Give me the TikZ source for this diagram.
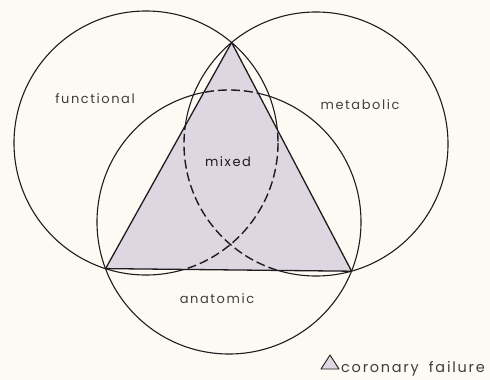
\documentclass[tikz,border=0pt]{standalone}
\usepackage{fontspec}
\setmainfont{Poppins}
\newfontfamily\lettering{Poppins}[LetterSpace=12]
\definecolor{bgc}{RGB}{252,250,243}
\definecolor{lavshade}{RGB}{222,214,224}
\definecolor{ink}{RGB}{30,28,30}
\begin{document}
\begin{tikzpicture}[x=1pt,y=-1pt,
  ring/.style={draw=ink,line width=1.1pt},
  dashring/.style={draw=ink,line width=1.4pt,dash pattern=on 9pt off 4pt},
  edge/.style={draw=ink,line width=1.3pt,line join=round},
  lbl/.style={font=\lettering\fontsize{13}{15}\selectfont,text=ink!85,inner sep=0pt}]
\useasboundingbox (0,0) rectangle (490,380);
\fill[bgc] (0,0) rectangle (490,380);
\coordinate (cl) at (146,143);
\coordinate (cr) at (316,144);
\coordinate (cb) at (229,222);
\coordinate (A) at (231.6,42.5);
\coordinate (P) at (105.6,268.6);
\coordinate (Q) at (351.6,271.2);
% solid circles
\draw[ring] (cl) circle[radius=132];
\draw[ring] (cr) circle[radius=132];
\draw[ring] (cb) circle[radius=132];
% inside triangle
\begin{scope}
  \clip (A) -- (P) -- (Q) -- cycle;
  \fill[lavshade] (A) -- (P) -- (Q) -- cycle;
  \draw[dashring] (cl) circle[radius=132];
  \draw[dashring] (cr) circle[radius=132];
  \draw[dashring] (cb) circle[radius=132];
\end{scope}
\draw[edge] (A) -- (P) -- (Q) -- cycle;
% labels
\node[lbl] (fun) at (95,99) {functional};
\node[lbl] (met) at (360,105) {metabolic};
\node[lbl,text=ink] (mix) at (228,162) {mixed};
\node[lbl] (ana) at (217,299) {anatomic};
% legend
\coordinate (la) at (321,369);
\coordinate (lb) at (339,369);
\coordinate (lc) at (330,355);
\filldraw[fill=lavshade,draw=ink,line width=0.9pt,line join=round] (la) -- (lb) -- (lc) -- cycle;
\node[lbl,anchor=base west,font=\lettering\fontsize{14.5}{16}\selectfont] (leg) at (341,372) {coronary\hspace{0.7em}failure};
\end{tikzpicture}
\end{document}
